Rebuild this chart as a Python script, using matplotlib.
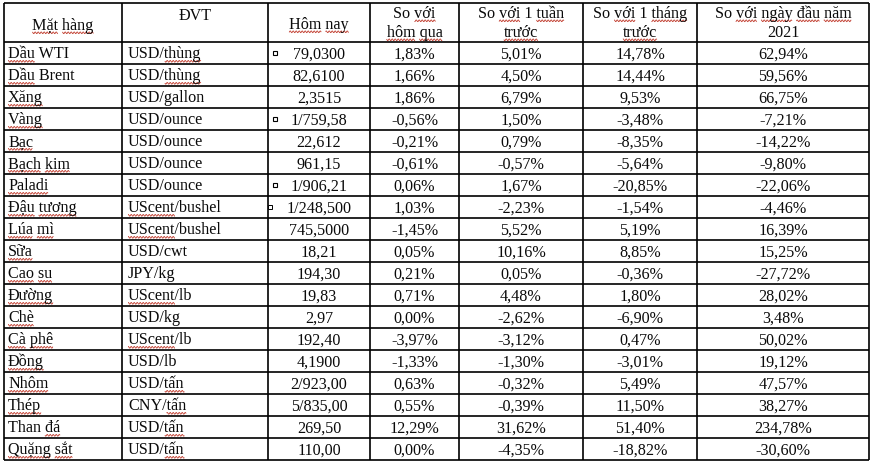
import re
import matplotlib
matplotlib.use('Agg')
import matplotlib.pyplot as plt
from matplotlib.font_manager import FontProperties
import numpy as np

plt.rcParams['font.family'] = ['Liberation Serif', 'DejaVu Serif']

# du lieu bang
headers = ["Mặt hàng", "ĐVT", "Hôm nay", "So với\nhôm qua", "So với 1 tuần\ntrước",
           "So với 1 tháng\ntrước", "So với ngày đầu năm\n2021"]
items = ["Dầu WTI", "Dầu Brent", "Xăng", "Vàng", "Bạc", "Bạch kim", "Paladi", "Đậu tương",
         "Lúa mì", "Sữa", "Cao su", "Đường", "Chè", "Cà phê", "Đồng", "Nhôm", "Thép",
         "Than đá", "Quặng sắt"]
units = ["USD/thùng", "USD/thùng", "USD/gallon", "USD/ounce", "USD/ounce", "USD/ounce",
         "USD/ounce", "UScent/bushel", "UScent/bushel", "USD/cwt", "JPY/kg", "UScent/lb",
         "USD/kg", "UScent/lb", "USD/lb", "USD/tấn", "CNY/tấn", "USD/tấn", "USD/tấn"]
today = ["79,0300", "82,6100", "2,3515", "1/759,58", "22,612", "961,15", "1/906,21",
         "1/248,500", "745,5000", "18,21", "194,30", "19,83", "2,97", "192,40", "4,1900",
         "2/923,00", "5/835,00", "269,50", "110,00"]
vs_day = ["1,83%", "1,66%", "1,86%", "-0,56%", "-0,21%", "-0,61%", "0,06%", "1,03%",
          "-1,45%", "0,05%", "0,21%", "0,71%", "0,00%", "-3,97%", "-1,33%", "0,63%",
          "0,55%", "12,29%", "0,00%"]
vs_week = ["5,01%", "4,50%", "6,79%", "1,50%", "0,79%", "-0,57%", "1,67%", "-2,23%",
           "5,52%", "10,16%", "0,05%", "4,48%", "-2,62%", "-3,12%", "-1,30%", "-0,32%",
           "-0,39%", "31,62%", "-4,35%"]
vs_month = ["14,78%", "14,44%", "9,53%", "-3,48%", "-8,35%", "-5,64%", "-20,85%", "-1,54%",
            "5,19%", "8,85%", "-0,36%", "1,80%", "-6,90%", "0,47%", "-3,01%", "5,49%",
            "11,50%", "51,40%", "-18,82%"]
vs_year = ["62,94%", "59,56%", "66,75%", "-7,21%", "-14,22%", "-9,80%", "-22,06%", "-4,46%",
           "16,39%", "15,25%", "-27,72%", "28,02%", "3,48%", "50,02%", "19,12%", "47,57%",
           "38,27%", "234,78%", "-30,60%"]
marked_rows = [0, 3, 6]

# tu bi gach chan do (kiem tra chinh ta)
spell_words = {"Dầu", "Xăng", "Vàng", "Bạc", "Bạch", "kim", "Paladi", "Đậu", "tương", "Lúa",
               "mì", "Sữa", "Cao", "su", "Đường", "Chè", "Cà", "phê", "Đồng", "Nhôm", "Thép",
               "đá", "Quặng", "sắt", "thùng", "UScent", "tấn", "Mặt", "hàng", "Hôm", "nay",
               "với", "hôm", "qua", "tuần", "trước", "tháng", "ngày", "đầu", "năm"}

# vi tri (pixel)
col_x = [4, 122, 268, 370, 459, 583, 697, 869]
head_top, head_bot, row_h = 3, 42, 22
fs = 11.6

fig = plt.figure(figsize=(8.76, 4.62), dpi=100)
ax = fig.add_axes([0, 0, 1, 1])
ax.set_xlim(0, 876)
ax.set_ylim(462, 0)
ax.axis('off')
renderer = fig.canvas.get_renderer()
prop = FontProperties(family='Liberation Serif', size=fs)


def text_w(s):
    w, h, d = renderer.get_text_width_height_descent(s, prop, ismath=False)
    return w


def put(x, y, s, ha='left'):
    ax.text(x, y, s, fontsize=fs, ha=ha, va='baseline', color='#0a0a0a')
    x0 = x - text_w(s) / 2 if ha == 'center' else x
    for m in re.finditer(r"[^\s/]+", s):
        if m.group() in spell_words:
            a = x0 + text_w(s[:m.start()])
            b = x0 + text_w(s[:m.end()])
            xs = np.arange(a, b, 0.5)
            ys = y + 2.8 + 0.9 * np.sin(xs * np.pi / 1.5)
            ax.plot(xs, ys, color='#c0392b', lw=0.6, solid_capstyle='butt')


n = len(items)
row_tops = [head_bot + i * row_h for i in range(n + 1)]

# khung
for yy in [head_top, head_bot] + row_tops[1:]:
    ax.hlines(yy, col_x[0], col_x[-1], color='black', lw=1.2)
for xx in col_x:
    ax.vlines(xx, head_top, row_tops[-1], color='black', lw=1.2)

# tieu de
centers = [(col_x[i] + col_x[i + 1]) / 2 for i in range(len(col_x) - 1)]
head_y = {0: 30, 1: 20, 2: 29}
for j, h in enumerate(headers):
    lines = h.split("\n")
    ys = [18, 37] if len(lines) == 2 else [head_y[j]]
    for ln, yy in zip(lines, ys):
        put(centers[j], yy, ln, ha='center')

# du lieu
cols = [today, vs_day, vs_week, vs_month, vs_year]
for i in range(n):
    base = row_tops[i] + 16.5
    put(col_x[0] + 4, base, items[i])
    put(col_x[1] + 6, base, units[i])
    for k, c in enumerate(cols):
        put(centers[k + 2], base, c[i], ha='center')

# o vuong nho
mx = [col_x[2] + 7] * len(marked_rows)
my = [row_tops[i] + 11 for i in marked_rows]
ax.plot(mx, my, 's', ms=3.2, mfc='white', mec='black', mew=0.8)
ax.plot([col_x[2] + 2], [row_tops[7] + 11], 's', ms=2.5, mfc='white', mec='black', mew=0.7)

fig.savefig('out.png', dpi=100, facecolor='white')
